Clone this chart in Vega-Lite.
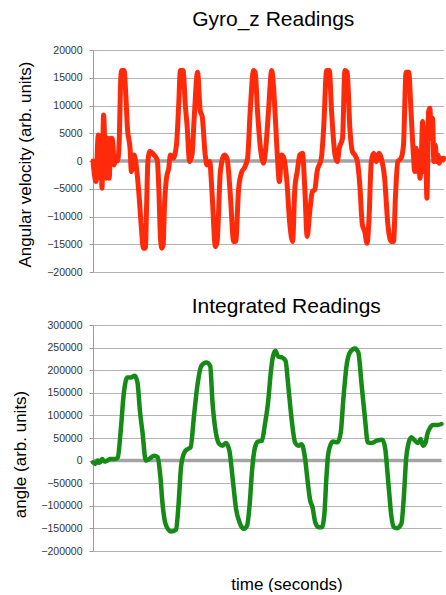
{
  "$schema": "https://vega.github.io/schema/vega-lite/v6.json",
  "padding": {"left": 10, "top": 8, "right": 0, "bottom": 0},
  "config": {
    "view": {"stroke": null},
    "font": "Liberation Sans",
    "title": {"fontSize": 21, "fontWeight": "normal", "color": "#000000", "font": "Liberation Sans"},
    "axis": {
      "labelFont": "Liberation Sans",
      "titleFont": "Liberation Sans",
      "labelFontSize": 10.5,
      "labelColor": "#333333",
      "titleFontSize": 17,
      "titleFontWeight": "normal",
      "titleColor": "#000000",
      "gridColor": "#b3b3b3",
      "gridWidth": 1,
      "domainColor": "#9a9a9a",
      "tickColor": "#9a9a9a",
      "tickSize": 4,
      "labelPadding": 7
    }
  },
  "datasets": {
    "gyro": [
      {"t": 0, "v": 0}, {"t": 3, "v": -3700}, {"t": 5.3, "v": 4700}, {"t": 7, "v": -3100}, {"t": 8, "v": 4100},
      {"t": 9, "v": -4900}, {"t": 10.7, "v": 8300}, {"t": 13, "v": -3100}, {"t": 14.7, "v": 4100}, {"t": 16.3, "v": -3100},
      {"t": 18, "v": 4100}, {"t": 19.7, "v": 4000}, {"t": 21.3, "v": -700}, {"t": 23, "v": 500}, {"t": 24.7, "v": 0},
      {"t": 26.3, "v": 3000}, {"t": 28, "v": 15000}, {"t": 29, "v": 16300}, {"t": 31.3, "v": 16300}, {"t": 33, "v": 12000},
      {"t": 34.7, "v": 5900}, {"t": 37.3, "v": 2300}, {"t": 38.7, "v": -1900}, {"t": 41.3, "v": 1100}, {"t": 43, "v": -100},
      {"t": 46.3, "v": -6000}, {"t": 48.7, "v": -12000}, {"t": 50.7, "v": -15700}, {"t": 52.7, "v": -15700}, {"t": 54, "v": -8000},
      {"t": 55.3, "v": 0}, {"t": 57.3, "v": 1700}, {"t": 61.3, "v": 1100}, {"t": 64.7, "v": 200}, {"t": 66.3, "v": -5000},
      {"t": 68, "v": -14000}, {"t": 69.3, "v": -15700}, {"t": 70.7, "v": -15000}, {"t": 72, "v": -8000}, {"t": 74, "v": -3100},
      {"t": 76.3, "v": -1300}, {"t": 78, "v": 1100}, {"t": 80.7, "v": 500}, {"t": 84, "v": 2800}, {"t": 86.3, "v": 10000},
      {"t": 88, "v": 16300}, {"t": 90.7, "v": 16300}, {"t": 93, "v": 10000}, {"t": 94.7, "v": 6500}, {"t": 97.3, "v": -100},
      {"t": 99.7, "v": 1100}, {"t": 102, "v": 8000}, {"t": 105.3, "v": 16000}, {"t": 108, "v": 9000}, {"t": 110, "v": 8000},
      {"t": 113, "v": 1100}, {"t": 114.7, "v": -700}, {"t": 117.5, "v": -100}, {"t": 120, "v": -6100}, {"t": 123.3, "v": -15400},
      {"t": 125, "v": -14500}, {"t": 128.3, "v": -1900}, {"t": 132.3, "v": 1100}, {"t": 135, "v": 500}, {"t": 138.3, "v": -6100},
      {"t": 141.7, "v": -14500}, {"t": 143.7, "v": -14500}, {"t": 146.7, "v": -4900}, {"t": 150, "v": -1900}, {"t": 152.3, "v": -1300},
      {"t": 155.7, "v": 500}, {"t": 158.3, "v": 8900}, {"t": 161.7, "v": 16300}, {"t": 163.3, "v": 16000}, {"t": 165.7, "v": 8900},
      {"t": 168.3, "v": 2900}, {"t": 171.7, "v": -400}, {"t": 174.3, "v": 2900}, {"t": 176.7, "v": 8900}, {"t": 180, "v": 16300},
      {"t": 181.7, "v": 13700}, {"t": 184, "v": 6500}, {"t": 186, "v": -100}, {"t": 187.7, "v": -3700}, {"t": 190, "v": 1100},
      {"t": 192.3, "v": 500}, {"t": 195, "v": -3100}, {"t": 198.3, "v": -11500}, {"t": 201, "v": -14500}, {"t": 203.3, "v": -4900},
      {"t": 205.7, "v": -1900}, {"t": 208.3, "v": 1100}, {"t": 211, "v": 1400}, {"t": 213.3, "v": -4900}, {"t": 215.7, "v": -13600},
      {"t": 218.3, "v": -9100}, {"t": 221, "v": -5500}, {"t": 223.3, "v": -5200}, {"t": 225.7, "v": -1900}, {"t": 230, "v": 500},
      {"t": 232.3, "v": 5900}, {"t": 235.3, "v": 16300}, {"t": 238, "v": 16300}, {"t": 240.3, "v": 8900}, {"t": 243.7, "v": 1100},
      {"t": 246, "v": -100}, {"t": 248, "v": 2300}, {"t": 251.3, "v": 4100}, {"t": 253.7, "v": 16300}, {"t": 256, "v": 16000},
      {"t": 258.7, "v": 5900}, {"t": 261.3, "v": 1700}, {"t": 263.7, "v": 1100}, {"t": 266.3, "v": -100}, {"t": 268.7, "v": -4300},
      {"t": 271.3, "v": -11500}, {"t": 273.7, "v": -12700}, {"t": 276, "v": -14800}, {"t": 278, "v": -10300}, {"t": 280.3, "v": -100},
      {"t": 282.7, "v": 1400}, {"t": 285.3, "v": -100}, {"t": 288, "v": 1400}, {"t": 290.3, "v": 500}, {"t": 293.7, "v": -3100},
      {"t": 297, "v": -11500}, {"t": 300.3, "v": -14500}, {"t": 302.7, "v": -14500}, {"t": 304.7, "v": -6100}, {"t": 307, "v": -100},
      {"t": 310.3, "v": 500}, {"t": 312.7, "v": 2900}, {"t": 315.3, "v": 16000}, {"t": 318, "v": 16000}, {"t": 320.3, "v": 8900},
      {"t": 322.7, "v": 1100}, {"t": 324, "v": -1900}, {"t": 325.3, "v": 2300}, {"t": 326.7, "v": -1900}, {"t": 328, "v": 1700},
      {"t": 329.3, "v": -3100}, {"t": 330.7, "v": 1100}, {"t": 332, "v": 7100}, {"t": 333.3, "v": -1900}, {"t": 334.7, "v": 5900},
      {"t": 336.3, "v": -6700}, {"t": 338, "v": 8900}, {"t": 339.3, "v": 9500}, {"t": 340.7, "v": 4100}, {"t": 342, "v": 7700},
      {"t": 343.3, "v": -100}, {"t": 344.7, "v": 2900}, {"t": 346, "v": -100}, {"t": 347.3, "v": 1100}, {"t": 348.7, "v": -400},
      {"t": 350.3, "v": 500}, {"t": 352.7, "v": 200}, {"t": 353, "v": 500}
    ],
    "angle": [
      {"t": 0, "v": -3700}, {"t": 2.3, "v": -7400}, {"t": 4.6, "v": 0}, {"t": 6.6, "v": -5000}, {"t": 9, "v": 3700},
      {"t": 11.3, "v": -2200}, {"t": 14, "v": 0}, {"t": 17.3, "v": 3700}, {"t": 22.3, "v": 3700}, {"t": 24.6, "v": 7400},
      {"t": 27.3, "v": 62600}, {"t": 30.6, "v": 150900}, {"t": 34, "v": 184000}, {"t": 37.3, "v": 184000}, {"t": 41.3, "v": 187700},
      {"t": 44, "v": 173000}, {"t": 46.6, "v": 106700}, {"t": 49, "v": 62600}, {"t": 52.3, "v": 0}, {"t": 55.6, "v": 3700},
      {"t": 60.6, "v": 11000}, {"t": 64, "v": 7400}, {"t": 66.6, "v": -33100}, {"t": 69, "v": -99400}, {"t": 72.3, "v": -143500},
      {"t": 77.3, "v": -156800}, {"t": 82.3, "v": -152300}, {"t": 84.6, "v": -99400}, {"t": 87.3, "v": -11000}, {"t": 90.6, "v": 18400},
      {"t": 94, "v": 25800}, {"t": 96.6, "v": 29400}, {"t": 100, "v": 99400}, {"t": 103.3, "v": 165600}, {"t": 107.3, "v": 209800},
      {"t": 112.3, "v": 217100}, {"t": 116, "v": 209800}, {"t": 118.3, "v": 128800}, {"t": 121.6, "v": 62600}, {"t": 125, "v": 36800},
      {"t": 128.3, "v": 33100}, {"t": 131.6, "v": 39000}, {"t": 135, "v": 22100}, {"t": 138.3, "v": -40500}, {"t": 141.6, "v": -106700},
      {"t": 145, "v": -136200}, {"t": 149.3, "v": -150900}, {"t": 152.6, "v": -143500}, {"t": 155, "v": -99400}, {"t": 157.6, "v": -18400},
      {"t": 160, "v": 25800}, {"t": 163.3, "v": 42000}, {"t": 167.3, "v": 44200}, {"t": 170, "v": 77300}, {"t": 173.3, "v": 128800},
      {"t": 176, "v": 195000}, {"t": 178.3, "v": 231800}, {"t": 180.6, "v": 242900}, {"t": 183.3, "v": 230300}, {"t": 187.3, "v": 228100},
      {"t": 190.6, "v": 220800}, {"t": 193.3, "v": 165600}, {"t": 196.6, "v": 92000}, {"t": 200, "v": 40500}, {"t": 203.3, "v": 33100},
      {"t": 206.6, "v": 36100}, {"t": 210, "v": 3700}, {"t": 212.6, "v": -47800}, {"t": 215, "v": -88300}, {"t": 217.3, "v": -103000},
      {"t": 220, "v": -136200}, {"t": 223.3, "v": -147200}, {"t": 226.6, "v": -147200}, {"t": 229, "v": -120000}, {"t": 231, "v": -40000},
      {"t": 232.6, "v": 10000}, {"t": 234.3, "v": 29400}, {"t": 237.6, "v": 42000}, {"t": 242, "v": 40500}, {"t": 245.3, "v": 62600},
      {"t": 247.6, "v": 128800}, {"t": 251, "v": 209800}, {"t": 254.3, "v": 239200}, {"t": 259.3, "v": 248000}, {"t": 262.6, "v": 239200},
      {"t": 266, "v": 165600}, {"t": 269.3, "v": 92000}, {"t": 272, "v": 40500}, {"t": 276, "v": 39000}, {"t": 281, "v": 44200},
      {"t": 286.6, "v": 46400}, {"t": 289.3, "v": 25800}, {"t": 292.6, "v": -55200}, {"t": 295.3, "v": -121400}, {"t": 297.6, "v": -147200},
      {"t": 301, "v": -149400}, {"t": 305.3, "v": -139800}, {"t": 307.6, "v": -84600}, {"t": 310, "v": 3700}, {"t": 312.6, "v": 40500},
      {"t": 315.3, "v": 51500}, {"t": 318.6, "v": 44200}, {"t": 322, "v": 39000}, {"t": 324.3, "v": 47800}, {"t": 326.6, "v": 33100},
      {"t": 329.3, "v": 40500}, {"t": 331, "v": 58900}, {"t": 333.3, "v": 71400}, {"t": 336.6, "v": 78800}, {"t": 341, "v": 78800},
      {"t": 345, "v": 81000}
    ],
    "zero": [{"t": 0, "v": 0}]
  },
  "concat": [
    {
      "title": {"text": "Gyro_z Readings", "offset": 15.5, "dx": 5},
      "width": 350.5,
      "height": 222,
      "layer": [
        {
          "data": {"name": "zero"},
          "mark": {"type": "rule", "color": "#a3a3a3", "strokeWidth": 3.5},
          "encoding": {
            "y": {"field": "v", "type": "quantitative", "scale": {"domain": [-20000, 20000], "nice": false},
              "axis": {"title": "Angular velocity (arb. units)", "values": [-20000, -15000, -10000, -5000, 0, 5000, 10000, 15000, 20000], "format": "d", "titleX": -59, "titleY": 114}}
          }
        },
        {
          "data": {"name": "gyro"},
          "mark": {"type": "line", "color": "#ff2a0a", "strokeWidth": 5, "interpolate": "monotone", "strokeJoin": "round", "strokeCap": "round"},
          "encoding": {
            "x": {"field": "t", "type": "quantitative", "scale": {"domain": [0, 353], "nice": false, "zero": false}, "axis": null},
            "y": {"field": "v", "type": "quantitative", "scale": {"domain": [-20000, 20000], "nice": false},
              "axis": {"title": "Angular velocity (arb. units)", "values": [-20000, -15000, -10000, -5000, 0, 5000, 10000, 15000, 20000], "format": "d", "titleX": -59, "titleY": 114}}
          }
        }
      ]
    },
    {
      "title": {"text": "Integrated Readings", "offset": 3.5, "dx": 19},
      "width": 348.5,
      "height": 226,
      "layer": [
        {
          "data": {"name": "zero"},
          "mark": {"type": "rule", "color": "#a3a3a3", "strokeWidth": 3.5},
          "encoding": {
            "y": {"field": "v", "type": "quantitative", "scale": {"domain": [-200000, 300000], "nice": false},
              "axis": {"title": "angle (arb. units)", "values": [-200000, -150000, -100000, -50000, 0, 50000, 100000, 150000, 200000, 250000, 300000], "format": "d", "titleX": -64, "titleY": 129}}
          }
        },
        {
          "data": {"name": "angle"},
          "mark": {"type": "line", "color": "#168a16", "strokeWidth": 4.5, "interpolate": "monotone", "strokeJoin": "round", "strokeCap": "round"},
          "encoding": {
            "x": {"field": "t", "type": "quantitative", "scale": {"domain": [0, 345], "nice": false, "zero": false},
              "axis": {"title": "time (seconds)", "labels": false, "ticks": false, "domain": false, "grid": false, "titlePadding": 25, "titleX": 193.5}},
            "y": {"field": "v", "type": "quantitative", "scale": {"domain": [-200000, 300000], "nice": false},
              "axis": {"title": "angle (arb. units)", "values": [-200000, -150000, -100000, -50000, 0, 50000, 100000, 150000, 200000, 250000, 300000], "format": "d", "titleX": -64, "titleY": 129}}
          }
        }
      ]
    }
  ],
  "columns": 1,
  "align": "none",
  "spacing": 17
}
